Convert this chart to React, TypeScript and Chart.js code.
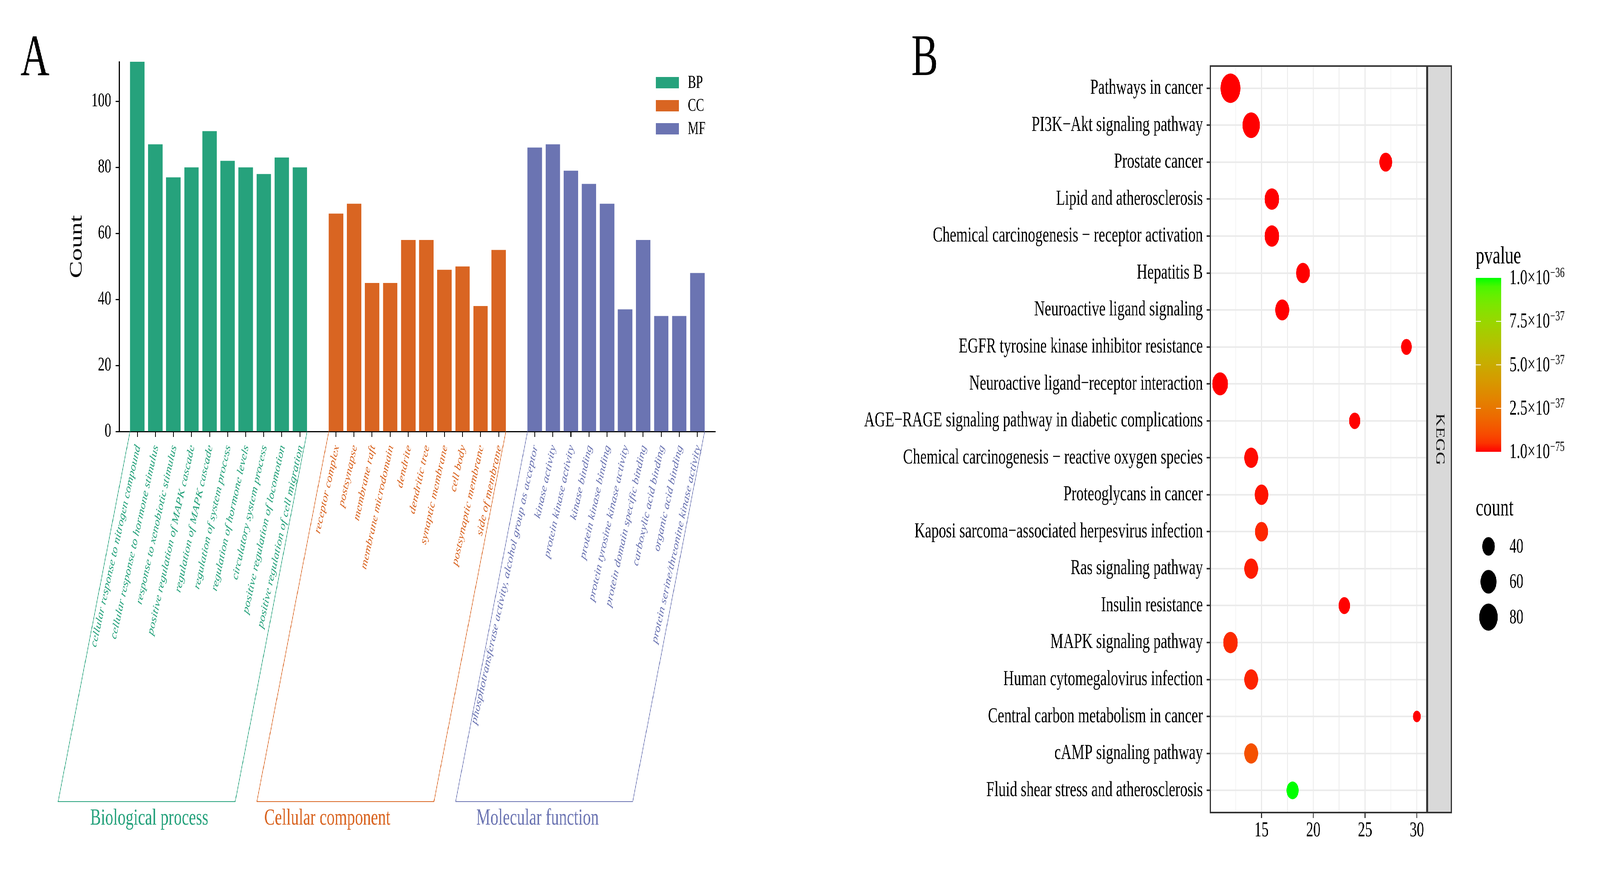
import React, { useEffect, useRef, useState } from 'react';
import { Chart, registerables } from 'chart.js';

Chart.register(...registerables);

// ---------------- Panel A data ----------------
const bpTerms = [
  'cellular response to nitrogen compound',
  'cellular response to hormone stimulus',
  'response to xenobiotic stimulus',
  'positive regulation of MAPK cascade',
  'regulation of MAPK cascade',
  'regulation of system process',
  'regulation of hormone levels',
  'circulatory system process',
  'positive regulation of locomotion',
  'positive regulation of cell migration',
];
const bpCounts = [112, 87, 77, 80, 91, 82, 80, 78, 83, 80];

const ccTerms = [
  'receptor complex',
  'postsynapse',
  'membrane raft',
  'membrane microdomain',
  'dendrite',
  'dendritic tree',
  'synaptic membrane',
  'cell body',
  'postsynaptic membrane',
  'side of membrane',
];
const ccCounts = [66, 69, 45, 45, 58, 58, 49, 50, 38, 55];

const mfTerms = [
  'phosphotransferase activity, alcohol group as acceptor',
  'kinase activity',
  'protein kinase activity',
  'kinase binding',
  'protein kinase binding',
  'protein tyrosine kinase activity',
  'protein domain specific binding',
  'carboxylic acid binding',
  'organic acid binding',
  'protein serine/threonine kinase activity',
];
const mfCounts = [86, 87, 79, 75, 69, 37, 58, 35, 35, 48];

const groupKeys = ['BP', 'CC', 'MF'];
const groupNames = ['Biological process', 'Cellular component', 'Molecular function'];
const countTicks = [0, 20, 40, 60, 80, 100];
const countMax = 112;

// ---------------- Panel B data ----------------
const pathways = [
  'Pathways in cancer',
  'PI3K\u2212Akt signaling pathway',
  'Prostate cancer',
  'Lipid and atherosclerosis',
  'Chemical carcinogenesis \u2212 receptor activation',
  'Hepatitis B',
  'Neuroactive ligand signaling',
  'EGFR tyrosine kinase inhibitor resistance',
  'Neuroactive ligand\u2212receptor interaction',
  'AGE\u2212RAGE signaling pathway in diabetic complications',
  'Chemical carcinogenesis \u2212 reactive oxygen species',
  'Proteoglycans in cancer',
  'Kaposi sarcoma\u2212associated herpesvirus infection',
  'Ras signaling pathway',
  'Insulin resistance',
  'MAPK signaling pathway',
  'Human cytomegalovirus infection',
  'Central carbon metabolism in cancer',
  'cAMP signaling pathway',
  'Fluid shear stress and atherosclerosis',
];
const pathwayX = [12, 14, 27, 16, 16, 19, 17, 29, 11, 24, 14, 15, 15, 14, 23, 12, 14, 30, 14, 18];
const pathwayCount = [96, 71, 41, 50, 50, 46, 48, 34, 57, 35, 46, 46, 43, 46, 36, 50, 46, 30, 46, 38];
const pathwayP = [
  1e-75, 2e-56, 5e-45, 3e-48, 6e-47, 2e-43, 4e-42, 8e-41, 1e-45, 3e-40,
  5e-39, 1e-38, 3e-38, 1.8e-38, 6e-40, 3.5e-38, 2.5e-38, 9e-41, 1.2e-37, 1e-36,
];
const xTicksB = [15, 20, 25, 30];
const pLimits = [1e-75, 1e-36];
const pBreaks = [1e-75, 2.5e-37, 5e-37, 7.5e-37, 1e-36];
const pBreakMantissa = ['1.0', '2.5', '5.0', '7.5', '1.0'];
const pBreakExp = ['\u221275', '\u221237', '\u221237', '\u221237', '\u221236'];
const sizeBreaks = [40, 60, 80];
const facetLabel = 'KEGG';

// ---------------- styling ----------------
const PAGE_W = 6027;
const PAGE_H = 2226;
const FONT = '"Liberation Serif", "Times New Roman", serif';
const groupColors = ['#26A27C', '#D96522', '#6B74B2'];
const lowColor = [255, 0, 0];
const highColor = [0, 255, 0];

// Lab colour interpolation (like ggplot2 gradient)
const lin = (c: number) => {
  c /= 255;
  return c <= 0.04045 ? c / 12.92 : Math.pow((c + 0.055) / 1.055, 2.4);
};
const delin = (c: number) => {
  const v = c <= 0.0031308 ? 12.92 * c : 1.055 * Math.pow(Math.max(c, 0), 1 / 2.4) - 0.055;
  return Math.round(Math.max(0, Math.min(1, v)) * 255);
};
function toLab(rgb: number[]) {
  const R = lin(rgb[0]), G = lin(rgb[1]), B = lin(rgb[2]);
  const x = (0.4124564 * R + 0.3575761 * G + 0.1804375 * B) / 0.95047;
  const y = 0.2126729 * R + 0.7151522 * G + 0.072175 * B;
  const z = (0.0193339 * R + 0.119192 * G + 0.9503041 * B) / 1.08883;
  const f = (t: number) => (t > 0.008856 ? Math.cbrt(t) : 7.787 * t + 16 / 116);
  const fx = f(x), fy = f(y), fz = f(z);
  return [116 * fy - 16, 500 * (fx - fy), 200 * (fy - fz)];
}
function fromLab(lab: number[]) {
  const fy = (lab[0] + 16) / 116;
  const fx = fy + lab[1] / 500;
  const fz = fy - lab[2] / 200;
  const finv = (t: number) => (t * t * t > 0.008856 ? t * t * t : (t - 16 / 116) / 7.787);
  const x = finv(fx) * 0.95047, y = finv(fy), z = finv(fz) * 1.08883;
  const R = 3.2404542 * x - 1.5371385 * y - 0.4985314 * z;
  const G = -0.969266 * x + 1.8760108 * y + 0.041556 * z;
  const B = 0.0556434 * x - 0.2040259 * y + 1.0572252 * z;
  return `rgb(${delin(R)},${delin(G)},${delin(B)})`;
}
const labLow = toLab(lowColor);
const labHigh = toLab(highColor);
function gradColor(t: number) {
  t = Math.max(0, Math.min(1, t));
  return fromLab([0, 1, 2].map((k) => labLow[k] + (labHigh[k] - labLow[k]) * t));
}
const pToT = (p: number) => (p - pLimits[0]) / (pLimits[1] - pLimits[0]);

// size scale (diameter in px) for counts
const sizeDiameter = (c: number) => 29.5 + 5.65 * Math.sqrt(Math.max(0, c - 30));

// ---------------- Panel A ----------------
const groups = [
  { key: groupKeys[0], name: groupNames[0], terms: bpTerms, counts: bpCounts, color: groupColors[0] },
  { key: groupKeys[1], name: groupNames[1], terms: ccTerms, counts: ccCounts, color: groupColors[1] },
  { key: groupKeys[2], name: groupNames[2], terms: mfTerms, counts: mfCounts, color: groupColors[2] },
];
const slotOf = (gi: number, i: number) => {
  let s = 0;
  for (let k = 0; k < gi; k++) s += groups[k].terms.length + 1;
  return s + i;
};
const totalSlots = slotOf(groups.length - 1, groups[groups.length - 1].terms.length - 1) + 1;
const tickSlots: number[] = [];
groups.forEach((g, gi) => g.terms.forEach((_, i) => tickSlots.push(slotOf(gi, i))));

const A_W = 2800;
const A_H = 2226;
const A_LEFT = 449;
const A_TOP = 158;
const A_RIGHT = 2695;
const A_BOTTOM = 1104;
const SLANT = 271;
const BRACKET_BOTTOM = 2051;
const groupLabelShift = [10, -68, -25];

const panelAPlugin = {
  id: 'panelAExtras',
  afterDraw(chart: any) {
    const ctx = chart.ctx;
    const xs = chart.scales.x;
    const axisY = chart.chartArea.bottom;
    ctx.save();
    groups.forEach((g, gi) => {
      ctx.font = `italic 34px ${FONT}`;
      ctx.fillStyle = g.color;
      ctx.textAlign = 'right';
      ctx.textBaseline = 'middle';
      g.terms.forEach((t, i) => {
        const px = xs.getPixelForValue(slotOf(gi, i));
        ctx.save();
        ctx.translate(px + 3, axisY + 36);
        ctx.rotate((-72 * Math.PI) / 180);
        ctx.fillText(t, 0, 0);
        ctx.restore();
      });
      const meta = chart.getDatasetMeta(gi);
      const first = meta.data[0];
      const last = meta.data[meta.data.length - 1];
      const x0 = first.x - first.width / 2;
      const x1 = last.x + last.width / 2;
      ctx.strokeStyle = g.color;
      ctx.lineWidth = 2;
      ctx.beginPath();
      ctx.moveTo(x0, axisY);
      ctx.lineTo(x0 - SLANT, BRACKET_BOTTOM);
      ctx.lineTo(x1 - SLANT, BRACKET_BOTTOM);
      ctx.lineTo(x1, axisY);
      ctx.stroke();
      ctx.font = `60px ${FONT}`;
      ctx.textAlign = 'center';
      ctx.textBaseline = 'alphabetic';
      ctx.fillText(g.name, (x0 + x1) / 2 - SLANT + groupLabelShift[gi], 2110);
    });

    groups.forEach((g, gi) => {
      const cy = 211 + gi * 59;
      ctx.fillStyle = g.color;
      ctx.fillRect(2470, cy - 14, 87, 29);
      ctx.fillStyle = '#000';
      ctx.font = `46px ${FONT}`;
      ctx.textAlign = 'left';
      ctx.textBaseline = 'middle';
      ctx.fillText(g.key, 2591, cy + 2);
    });

    ctx.save();
    ctx.translate(290, (chart.chartArea.top + chart.chartArea.bottom) / 2);
    ctx.rotate(-Math.PI / 2);
    ctx.font = `66px ${FONT}`;
    ctx.fillStyle = '#000';
    ctx.textAlign = 'center';
    ctx.textBaseline = 'middle';
    ctx.fillText('Count', 0, 0);
    ctx.restore();

    ctx.font = `151px ${FONT}`;
    ctx.fillStyle = '#000';
    ctx.textAlign = 'left';
    ctx.textBaseline = 'alphabetic';
    ctx.fillText('A', 77, 192);
    ctx.restore();
  },
};

// ---------------- Panel B ----------------
const B_OFF = 3000;
const B_W = 3027;
const B_H = 2226;
const B_RIGHT = 5374 - B_OFF;
const B_LEFT = 4559 - B_OFF;
const B_TOP = 169;
const B_BOTTOM = 2079;

const xMinData = Math.min(...pathwayX);
const xMaxData = Math.max(...pathwayX);
const xExpand = 0.05 * (xMaxData - xMinData);
const xGridVals = [...xTicksB.map((v) => v - 2.5), ...xTicksB].sort((a, b) => a - b);

const panelBPlugin = {
  id: 'panelBExtras',
  afterDraw(chart: any) {
    const ctx = chart.ctx;
    const ca = chart.chartArea;
    ctx.save();
    ctx.strokeStyle = '#333333';
    ctx.lineWidth = 4;
    ctx.strokeRect(ca.left, ca.top, ca.right - ca.left, ca.bottom - ca.top);
    const sx0 = ca.right + 4;
    const sx1 = 5467 - B_OFF;
    ctx.fillStyle = '#D9D9D9';
    ctx.fillRect(sx0, ca.top, sx1 - sx0, ca.bottom - ca.top);
    ctx.strokeRect(sx0, ca.top, sx1 - sx0, ca.bottom - ca.top);
    ctx.save();
    ctx.translate((sx0 + sx1) / 2, (ca.top + ca.bottom) / 2);
    ctx.rotate(Math.PI / 2);
    ctx.font = `48px ${FONT}`;
    ctx.fillStyle = '#1A1A1A';
    ctx.textAlign = 'center';
    ctx.textBaseline = 'middle';
    ctx.fillText(facetLabel, 0, 0);
    ctx.restore();

    const lx = 5559 - B_OFF;
    ctx.fillStyle = '#000';
    ctx.font = `64px ${FONT}`;
    ctx.textAlign = 'left';
    ctx.textBaseline = 'alphabetic';
    ctx.fillText('pvalue', lx, 674);
    const cbTop = 711, cbBot = 1156, cbW = 96;
    const grad = ctx.createLinearGradient(0, cbBot, 0, cbTop);
    for (let i = 0; i <= 20; i++) grad.addColorStop(i / 20, gradColor(i / 20));
    ctx.fillStyle = grad;
    ctx.fillRect(lx, cbTop, cbW, cbBot - cbTop);
    pBreaks.forEach((p, i) => {
      const y = cbBot - pToT(p) * (cbBot - cbTop);
      if (i > 0 && i < pBreaks.length - 1) {
        ctx.strokeStyle = '#FFFFFF';
        ctx.lineWidth = 2;
        ctx.beginPath();
        ctx.moveTo(lx, y);
        ctx.lineTo(lx + 19, y);
        ctx.moveTo(lx + cbW - 19, y);
        ctx.lineTo(lx + cbW, y);
        ctx.stroke();
      }
      ctx.fillStyle = '#000';
      ctx.font = `54px ${FONT}`;
      ctx.textBaseline = 'middle';
      const base = `${pBreakMantissa[i]}\u00D710`;
      const tx = 5686 - B_OFF;
      ctx.fillText(base, tx, y + 2);
      const bw = ctx.measureText(base).width;
      ctx.font = `35px ${FONT}`;
      ctx.fillText(pBreakExp[i], tx + bw + 1, y - 11);
    });

    ctx.font = `64px ${FONT}`;
    ctx.textBaseline = 'alphabetic';
    ctx.fillText('count', lx, 1319);
    const cx = lx + cbW / 2;
    sizeBreaks.forEach((c, i) => {
      const cy = 1398 + i * 90.5;
      ctx.fillStyle = '#000';
      ctx.beginPath();
      ctx.arc(cx, cy, sizeDiameter(c) / 2, 0, Math.PI * 2);
      ctx.fill();
      ctx.font = `52px ${FONT}`;
      ctx.textBaseline = 'middle';
      ctx.fillText(String(c), 5686 - B_OFF, cy + 2);
    });

    ctx.font = `151px ${FONT}`;
    ctx.fillStyle = '#000';
    ctx.textAlign = 'left';
    ctx.textBaseline = 'alphabetic';
    ctx.fillText('B', 3433 - B_OFF, 192);
    ctx.restore();
  },
};

export default function App() {
  const refA = useRef<HTMLCanvasElement>(null);
  const refB = useRef<HTMLCanvasElement>(null);
  const [sc, setSc] = useState<[number, number]>([1, 1]);

  useEffect(() => {
    const fit = () => {
      const w = document.documentElement.clientWidth || window.innerWidth;
      const h = document.documentElement.clientHeight || window.innerHeight;
      setSc([Math.min(1, w / PAGE_W), Math.min(1, h / PAGE_H)]);
    };
    fit();
    window.addEventListener('resize', fit);
    return () => window.removeEventListener('resize', fit);
  }, []);

  useEffect(() => {
    Chart.defaults.font.family = FONT;

    const chartA = new Chart(refA.current as HTMLCanvasElement, {
      type: 'bar',
      data: {
        datasets: groups.map((g, gi) => ({
          label: g.key,
          data: g.counts.map((c, i) => ({ x: slotOf(gi, i), y: c })),
          backgroundColor: g.color,
          borderWidth: 0,
          grouped: false,
          barPercentage: 0.8,
          categoryPercentage: 1,
        })),
      },
      options: {
        animation: false,
        responsive: false,
        devicePixelRatio: 1,
        layout: { padding: { left: 0, top: A_TOP, right: A_W - A_RIGHT, bottom: 0 } },
        plugins: { legend: { display: false }, tooltip: { enabled: false } },
        events: [],
        scales: {
          x: {
            type: 'linear',
            offset: false,
            min: -1,
            max: totalSlots,
            afterBuildTicks: (s: any) => {
              s.ticks = tickSlots.map((v) => ({ value: v }));
            },
            ticks: { display: false },
            grid: {
              offset: false,
              drawOnChartArea: false,
              drawTicks: true,
              tickLength: 14,
              tickWidth: 3,
              tickColor: '#000',
            },
            border: { display: true, color: '#000', width: 3 },
            afterFit: (s: any) => {
              s.height = A_H - A_BOTTOM;
            },
          },
          y: {
            type: 'linear',
            min: 0,
            max: countMax,
            afterBuildTicks: (s: any) => {
              s.ticks = countTicks.map((v) => ({ value: v }));
            },
            ticks: { font: { size: 50, family: FONT }, color: '#000', padding: 16 },
            grid: {
              drawOnChartArea: false,
              drawTicks: true,
              tickLength: 14,
              tickWidth: 3,
              tickColor: '#000',
            },
            border: { display: true, color: '#000', width: 3 },
            afterFit: (s: any) => {
              s.width = A_LEFT;
            },
          },
        },
      } as any,
      plugins: [panelAPlugin],
    });

    const chartB = new Chart(refB.current as HTMLCanvasElement, {
      type: 'bubble',
      data: {
        datasets: [
          {
            label: 'KEGG',
            data: pathways.map((_, i) => ({
              x: pathwayX[i],
              y: i,
              r: sizeDiameter(pathwayCount[i]) / 2,
            })),
            backgroundColor: (c: any) => gradColor(pToT(pathwayP[c.dataIndex] ?? 0)),
            borderWidth: 0,
            hoverRadius: 0,
          },
        ],
      },
      options: {
        animation: false,
        responsive: false,
        devicePixelRatio: 1,
        events: [],
        layout: { padding: { left: 0, top: B_TOP, right: B_W - B_RIGHT, bottom: 0 } },
        plugins: { legend: { display: false }, tooltip: { enabled: false } },
        scales: {
          x: {
            type: 'linear',
            offset: false,
            min: xMinData - xExpand,
            max: xMaxData + xExpand,
            afterBuildTicks: (s: any) => {
              s.ticks = xGridVals.map((v) => ({ value: v }));
            },
            ticks: {
              autoSkip: false,
              maxRotation: 0,
              callback: (v: any) => (xTicksB.includes(v) ? String(v) : ''),
              font: { size: 54, family: FONT },
              color: '#000',
              padding: 0,
            },
            grid: {
              offset: false,
              color: '#EBEBEB',
              lineWidth: (c: any) => (c.tick && xTicksB.includes(c.tick.value) ? 4 : 2),
              drawTicks: true,
              tickLength: 14,
              tickWidth: 4,
              tickColor: (c: any) =>
                c.tick && xTicksB.includes(c.tick.value) ? '#333333' : 'rgba(0,0,0,0)',
            },
            border: { display: false },
            afterFit: (s: any) => {
              s.height = B_H - B_BOTTOM;
            },
          },
          y: {
            type: 'linear',
            offset: false,
            min: -0.6,
            max: pathways.length - 1 + 0.6,
            reverse: true,
            afterBuildTicks: (s: any) => {
              s.ticks = pathways.map((_, i) => ({ value: i }));
            },
            ticks: {
              autoSkip: false,
              callback: (v: any) => pathways[v] ?? '',
              font: { size: 55, family: FONT },
              color: '#000',
              padding: 14,
            },
            grid: {
              color: '#EBEBEB',
              lineWidth: 4,
              drawTicks: true,
              tickLength: 14,
              tickWidth: 4,
              tickColor: '#333333',
            },
            border: { display: false },
            afterFit: (s: any) => {
              s.width = B_LEFT;
            },
          },
        },
      } as any,
      plugins: [panelBPlugin],
    });

    return () => {
      chartA.destroy();
      chartB.destroy();
    };
  }, []);

  return (
    <div
      style={{
        position: 'absolute',
        left: 0,
        top: 0,
        width: PAGE_W,
        height: PAGE_H,
        background: '#fff',
        transform: `scale(${sc[0]}, ${sc[1]})`,
        transformOrigin: '0 0',
      }}
    >
      <canvas ref={refA} width={A_W} height={A_H} style={{ position: 'absolute', left: 0, top: 0 }} />
      <canvas ref={refB} width={B_W} height={B_H} style={{ position: 'absolute', left: B_OFF, top: 0 }} />
    </div>
  );
}
